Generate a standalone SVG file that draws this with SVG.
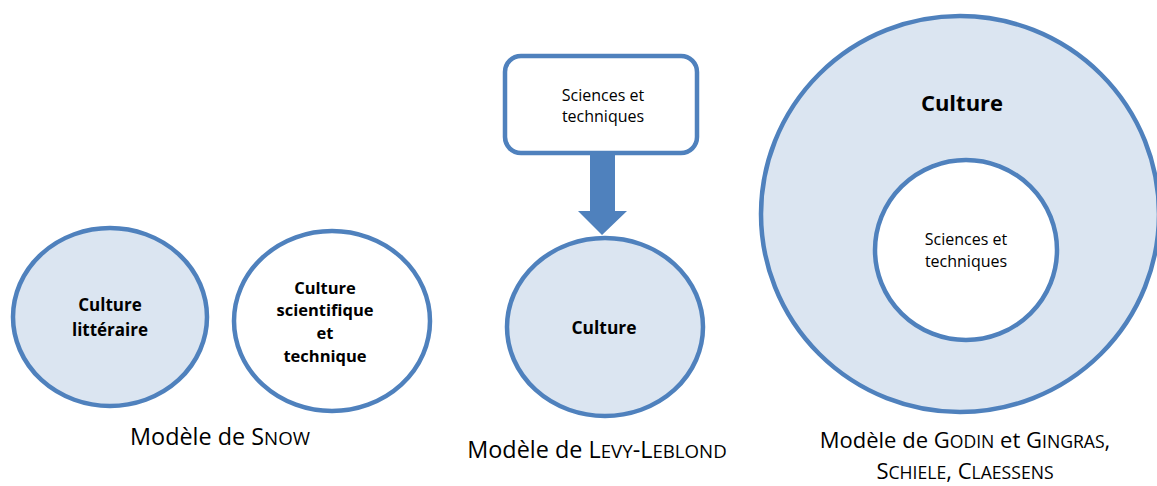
<svg xmlns="http://www.w3.org/2000/svg" width="1157" height="486" viewBox="0 0 1157 486">
<style>
.sh{stroke:#4f81bd;stroke-width:4.5}
.lt{fill:#dbe5f1}
.wt{fill:#ffffff}
text{font-family:"Open Sans","Liberation Sans",sans-serif;fill:#000;text-anchor:middle}
.b{font-weight:bold}
.cap{font-size:23.4px}
.sm{font-size:18.7px}
.cap2{font-size:22px}
.sm2{font-size:17.6px}
</style>
<rect width="1157" height="486" fill="#fff"/>
<g id="snow-litt">
<ellipse class="sh lt" cx="110" cy="317" rx="97" ry="89"/>
<text class="b" font-size="17" x="110" y="311">Culture</text>
<text class="b" font-size="17" x="110" y="336">littéraire</text>
</g>
<g id="snow-sci">
<ellipse class="sh wt" cx="332" cy="321" rx="98" ry="90"/>
<text class="b" font-size="16.5" x="325" y="294">Culture</text>
<text class="b" font-size="16.5" x="325" y="316">scientifique</text>
<text class="b" font-size="16.5" x="325" y="339">et</text>
<text class="b" font-size="16.5" x="325" y="362">technique</text>
</g>
<g id="levy-box">
<rect class="sh wt" x="505" y="56" width="192" height="97" rx="16"/>
<text font-size="16" x="603" y="101">Sciences et</text>
<text font-size="16" x="603" y="122">techniques</text>
</g>
<g id="connectors">
<polygon fill="#4f81bd" points="590,153 615,153 615,211 627,211 602,235 578,211 590,211"/>
</g>
<g id="levy-culture">
<ellipse class="sh lt" cx="605" cy="327" rx="98" ry="89"/>
<text class="b" font-size="17.4" x="604" y="334">Culture</text>
</g>
<g id="godin-outer">
<ellipse class="sh lt" cx="960" cy="214" rx="199" ry="198"/>
<text class="b" font-size="22" x="962" y="111">Culture</text>
</g>
<g id="godin-inner">
<ellipse class="sh wt" cx="966" cy="250" rx="91" ry="90"/>
<text font-size="16" x="966" y="245">Sciences et</text>
<text font-size="16" x="966" y="267">techniques</text>
</g>
<g id="labels">
<text class="cap" x="220" y="445">Modèle de S<tspan class="sm">NOW</tspan></text>
<text class="cap" x="597" y="458">Modèle de L<tspan class="sm">EVY</tspan>-L<tspan class="sm">EBLOND</tspan></text>
<text class="cap2" x="965" y="448">Modèle de G<tspan class="sm2">ODIN</tspan> et G<tspan class="sm2">INGRAS</tspan>,</text>
<text class="cap2" x="965" y="479">S<tspan class="sm2">CHIELE</tspan>, C<tspan class="sm2">LAESSENS</tspan></text>
</g>
</svg>
